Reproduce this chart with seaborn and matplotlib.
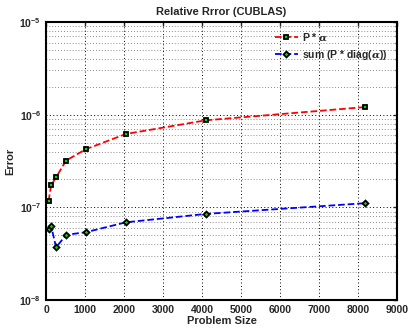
import numpy as np
import pandas as pd
import matplotlib
matplotlib.use("Agg")
import matplotlib.pyplot as plt
import seaborn as sns
from matplotlib.ticker import LogLocator, NullFormatter, FixedLocator

# Data
problem_size = [64, 128, 256, 512, 1024, 2048, 4096, 8192]
err_p_alpha = [1.17e-7, 1.73e-7, 2.11e-7, 3.2e-7, 4.25e-7, 6.2e-7, 8.7e-7, 1.21e-6]
err_sum_diag = [5.9e-8, 6.3e-8, 3.7e-8, 5.05e-8, 5.4e-8, 6.9e-8, 8.5e-8, 1.11e-7]
labels = [r"P * $\alpha$", r"sum (P * diag($\alpha$))"]
x_ticks = [0, 1000, 2000, 3000, 4000, 5000, 6000, 7000, 8000, 9000]

df = pd.DataFrame({"size": problem_size, "a": err_p_alpha, "b": err_sum_diag})

sns.set_style("white")
plt.rcParams['font.family'] = ['Liberation Sans', 'DejaVu Sans']
plt.rcParams['font.weight'] = 'bold'
plt.rcParams['mathtext.fontset'] = 'dejavuserif'

fig = plt.figure(figsize=(4.08, 3.29), dpi=100)
ax = fig.add_axes([0.113, 0.088, 0.86, 0.845])

sns.lineplot(data=df, x="size", y="a", ax=ax, color="red", linestyle="--",
             marker="s", markersize=3.2, markerfacecolor="#00dd00",
             markeredgecolor="black", markeredgewidth=1.3, linewidth=1.3,
             label=labels[0], dashes=(3, 2.5), zorder=3)
sns.lineplot(data=df, x="size", y="b", ax=ax, color="blue", linestyle="--",
             marker="D", markersize=3.0, markerfacecolor="#00dd00",
             markeredgecolor="black", markeredgewidth=1.3, linewidth=1.3,
             label=labels[1], dashes=(3, 2.5), zorder=3)

ax.set_yscale("log")
ax.set_ylim(1e-8, 1e-5)
ax.set_xlim(0, 9000)
ax.xaxis.set_major_locator(FixedLocator(x_ticks))
ax.yaxis.set_major_locator(LogLocator(base=10, numticks=10))
ax.yaxis.set_minor_locator(LogLocator(base=10, subs=np.arange(2, 10), numticks=20))
ax.yaxis.set_minor_formatter(NullFormatter())

ax.grid(True, which="major", linestyle=(0, (1, 2.5)), color="black", linewidth=0.7)
ax.grid(True, which="minor", axis="y", linestyle=(0, (1, 2.5)), color="#666666", linewidth=0.6)

ax.tick_params(axis="both", which="both", direction="in", top=True, right=True,
               labelsize=7.5, length=3, width=1)
ax.tick_params(axis="y", which="minor", length=1.5)
for lab in ax.get_xticklabels() + ax.get_yticklabels():
    lab.set_fontweight("bold")
for s in ax.spines.values():
    s.set_linewidth(1.5)
    s.set_color("black")

ax.set_title("Relative Rrror (CUBLAS)", fontsize=8, fontweight="bold", pad=5)
ax.set_xlabel("Problem Size", fontsize=8, fontweight="bold", labelpad=1)
ax.set_ylabel("Error", fontsize=8, fontweight="bold", labelpad=3)

leg = ax.legend(loc="upper right", fontsize=7.5, frameon=False, handlelength=2.2,
                handletextpad=0.4, borderaxespad=0.5, labelspacing=0.5)
for t in leg.get_texts():
    t.set_fontweight("bold")

fig.savefig("out.png", dpi=100)
